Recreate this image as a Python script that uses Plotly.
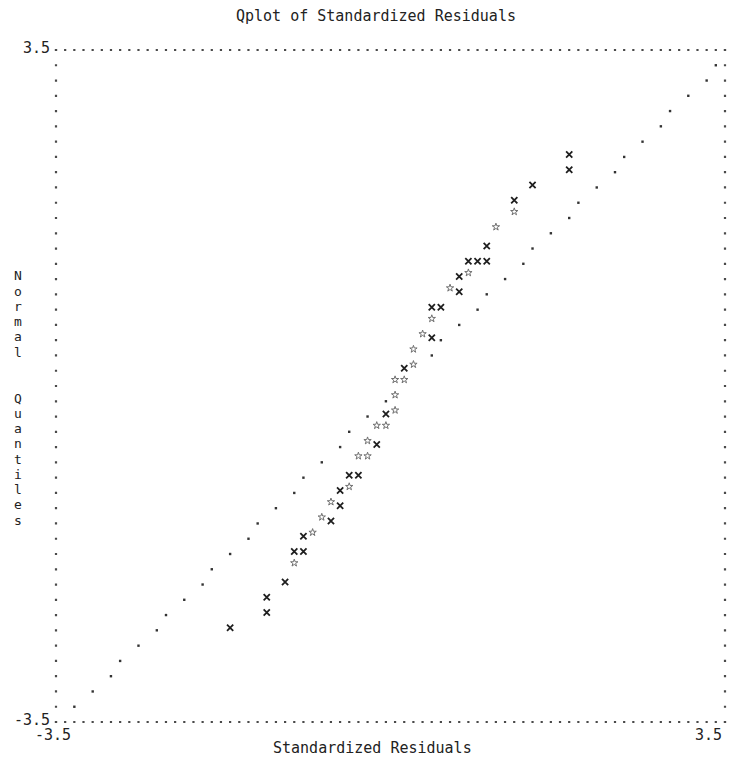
import plotly.graph_objects as go

# ---- data ----
# observations drawn with "x"
x_resid = [1.870, 1.870, 1.486, 1.295, 1.007, 0.815, 0.911, 1.007, 0.719, 0.719,
           0.432, 0.527, 0.432, 0.144, -0.048, -0.144, -0.432, -0.336, -0.527, -0.527,
           -0.623, -0.911, -1.007, -0.911, -1.103, -1.295, -1.295, -1.678]
x_quant = [2.386, 2.227, 2.068, 1.909, 1.432, 1.273, 1.273, 1.273, 1.114, 0.955,
           0.795, 0.795, 0.477, 0.159, -0.318, -0.636, -0.955, -0.955, -1.114, -1.273,
           -1.432, -1.591, -1.750, -1.750, -2.068, -2.227, -2.386, -2.545]
# observations drawn with "*"
star_resid = [1.295, 1.103, 0.815, 0.623, 0.432, 0.336, 0.240, 0.240, 0.048, 0.144,
              0.048, 0.048, -0.144, -0.048, -0.240, -0.336, -0.240, -0.432, -0.623,
              -0.719, -0.815, -1.007]
star_quant = [1.750, 1.591, 1.114, 0.955, 0.636, 0.477, 0.318, 0.159, 0.000, 0.000,
              -0.159, -0.318, -0.477, -0.477, -0.636, -0.795, -0.795, -1.114, -1.273,
              -1.432, -1.591, -1.909]
# reference line drawn with "."
ref_resid = [3.404, 3.308, 3.116, 2.925, 2.829, 2.637, 2.445, 2.349, 2.158, 1.966,
             1.870, 1.678, 1.486, 1.390, 1.199, 1.007, 0.911, 0.719, 0.527, 0.432,
             -0.048, -0.240, -0.432, -0.527, -0.719, -0.911, -1.007, -1.199, -1.390,
             -1.486, -1.678, -1.870, -1.966, -2.158, -2.349, -2.445, -2.637, -2.829,
             -2.925, -3.116, -3.308]
ref_quant = [3.341, 3.182, 3.023, 2.864, 2.705, 2.545, 2.386, 2.227, 2.068, 1.909,
             1.750, 1.591, 1.432, 1.273, 1.114, 0.955, 0.795, 0.636, 0.477, 0.318,
             -0.159, -0.318, -0.477, -0.636, -0.795, -0.955, -1.114, -1.273, -1.432,
             -1.591, -1.750, -1.909, -2.068, -2.227, -2.386, -2.545, -2.705, -2.864,
             -3.023, -3.182, -3.341]

axis_min, axis_max = -3.5, 3.5
x_tick_labels = ["-3.5", "3.5"]
y_tick_labels = ["3.5", "-3.5"]
title_text = "Qplot of Standardized Residuals"
x_title = "Standardized Residuals"
y_title = "Normal  Quantiles"  # written one character per row

# ---- layout geometry (pixels) ----
PAGE_OFF = 8                 # default body margin of the html page
W, H = 739 - PAGE_OFF, 758 - PAGE_OFF
L, T = 56 - PAGE_OFF, 50 - PAGE_OFF
PW, PH = 669, 672
R, B = W - L - PW, H - T - PH
n_cols, n_rows = 73, 44
col_w = PW / n_cols
row_h = PH / n_rows
span = axis_max - axis_min


def pxx(xp):  # page pixel -> paper
    return (xp - PAGE_OFF - L) / PW


def pxy(yp):
    return 1 - (yp - PAGE_OFF - T) / PH


FONT = "DejaVu Sans Mono"
TXT = "#222222"
DOT = "#4a4a4a"

fig = go.Figure()

fig.add_trace(go.Scatter(
    x=ref_resid, y=ref_quant, mode="markers",
    marker=dict(symbol="square", size=2.4, color="#333333"),
    cliponaxis=False, showlegend=False, hoverinfo="skip"))

fig.add_trace(go.Scatter(
    x=star_resid, y=star_quant, mode="markers", yaxis="y3",
    marker=dict(symbol="star-open", size=5.5, color="#707070", line=dict(width=1.0)),
    cliponaxis=False, showlegend=False))

fig.add_trace(go.Scatter(
    x=x_resid, y=x_quant, mode="markers", yaxis="y2",
    marker=dict(symbol="x-thin-open", size=6.2, color="#1e1e1e",
                line=dict(width=1.8, color="#1e1e1e")),
    cliponaxis=False, showlegend=False))

# glyph offsets: 'x' and '*' characters sit above the baseline of their text row
x_shift = 2.5 * span / PH
star_shift = 6.3 * span / PH

shapes = []
dsz = 2.2
hd = dsz / 2
dash_h = "%.1fpx,%.3fpx" % (dsz, col_w - dsz)
dash_v = "%.1fpx,%.3fpx" % (dsz, row_h - dsz)
for yv in (0, 1):
    shapes.append(dict(type="line", xref="paper", yref="paper",
                       x0=-hd / PW, x1=1 + hd / PW, y0=yv, y1=yv,
                       line=dict(color=DOT, width=dsz, dash=dash_h)))
for xv in (0, 1):
    shapes.append(dict(type="line", xref="paper", yref="paper",
                       x0=xv, x1=xv, y0=1 + hd / PH, y1=-hd / PH,
                       line=dict(color=DOT, width=dsz, dash=dash_v)))

ann = []
f = dict(family=FONT, size=15, color=TXT)
ann.append(dict(text=title_text, x=pxx(376), y=pxy(16), xanchor="center", yanchor="middle"))
ann.append(dict(text=y_tick_labels[0], x=pxx(52), y=pxy(48), xanchor="right", yanchor="middle"))
ann.append(dict(text=y_tick_labels[1], x=pxx(52), y=pxy(720), xanchor="right", yanchor="middle"))
ann.append(dict(text=x_tick_labels[0], x=pxx(52.5), y=pxy(735), xanchor="center", yanchor="middle"))
ann.append(dict(text=x_tick_labels[1], x=pxx(724), y=pxy(735), xanchor="right", yanchor="middle"))
ann.append(dict(text=x_title, x=pxx(372.5), y=pxy(748), xanchor="center", yanchor="middle"))
for a in ann:
    a["font"] = f
for i, ch in enumerate(y_title):
    if ch.strip():
        yp = 50.3 + (15 + i) * row_h - 3.5
        ann.append(dict(text=ch, x=pxx(18), y=pxy(yp), xanchor="center",
                        yanchor="middle", font=dict(family=FONT, size=13, color=TXT)))
for a in ann:
    a.update(xref="paper", yref="paper", showarrow=False)

ax = dict(range=[axis_min, axis_max], visible=False, fixedrange=True)
fig.update_layout(
    width=W, height=H,
    margin=dict(l=L, r=R, t=T, b=B, pad=0),
    paper_bgcolor="white", plot_bgcolor="white",
    xaxis=dict(ax, domain=[0, 1]),
    yaxis=dict(ax, domain=[0, 1]),
    yaxis2=dict(range=[axis_min - x_shift, axis_max - x_shift], overlaying="y",
                visible=False, fixedrange=True),
    yaxis3=dict(range=[axis_min - star_shift, axis_max - star_shift], overlaying="y",
                visible=False, fixedrange=True),
    shapes=shapes, annotations=ann, showlegend=False,
)

fig.write_html("out.html")
